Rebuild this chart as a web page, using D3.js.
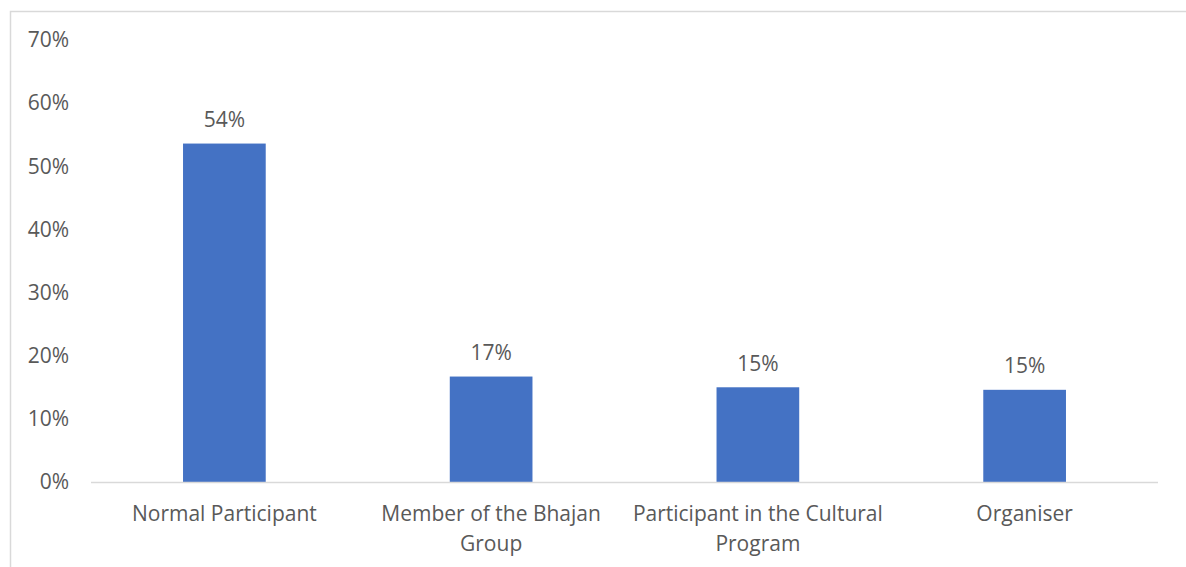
<!DOCTYPE html>
<html lang="en">
<head>
<meta charset="UTF-8">
<title>Participation</title>
<script src="https://d3js.org/d3.v7.min.js"></script>
<style>
  body { margin: 0; background: #fff; }
  svg text { font-family: "Open Sans", Lato, sans-serif; fill: #595959; }
</style>
</head>
<body>
<svg width="1186" height="567"></svg>
<script>
// data
const categories = [["Normal Participant"], ["Member of the Bhajan", "Group"], ["Participant in the Cultural", "Program"], ["Organiser"]];
const values = [53.6, 16.7, 15.0, 14.6];
const labels = ["54%", "17%", "15%", "15%"];
const yTicks = [0, 10, 20, 30, 40, 50, 60, 70];

const svg = d3.select("svg");
const fs = "21px";

// chart frame (only top/left edges fall inside the picture)
svg.append("rect")
  .attr("x", 10.5).attr("y", 11.5)
  .attr("width", 1200).attr("height", 600)
  .attr("fill", "none").attr("stroke", "#d9d9d9").attr("stroke-width", 1.5);

const x = d3.scaleBand().domain(d3.range(categories.length)).range([91, 1158]);
const y = d3.scaleLinear().domain([0, 70]).range([482, 40]);
const barW = x.bandwidth() * 0.31;

// y tick labels
svg.selectAll(".ytick")
  .data(yTicks)
  .enter().append("text")
    .attr("x", 69)
    .attr("y", d => y(d))
    .attr("dy", "0.35em")
    .attr("text-anchor", "end")
    .style("font-size", fs)
    .text(d => d + "%");

// bars
svg.selectAll(".bar")
  .data(values)
  .enter().append("rect")
    .attr("x", (d, i) => x(i) + x.bandwidth() / 2 - barW / 2)
    .attr("y", d => y(d))
    .attr("width", barW)
    .attr("height", d => y(0) - y(d))
    .attr("fill", "#4472c4");

// baseline
svg.append("line")
  .attr("x1", 91).attr("x2", 1158)
  .attr("y1", y(0) + 0.5).attr("y2", y(0) + 0.5)
  .attr("stroke", "#d9d9d9").attr("stroke-width", 1.5);

// value labels
svg.selectAll(".val")
  .data(values)
  .enter().append("text")
    .attr("x", (d, i) => x(i) + x.bandwidth() / 2)
    .attr("y", d => y(d) - 24)
    .attr("dy", "0.35em")
    .attr("text-anchor", "middle")
    .style("font-size", fs)
    .text((d, i) => labels[i]);

// category labels, may be two lines
const cat = svg.selectAll(".cat")
  .data(categories)
  .enter().append("text")
    .attr("text-anchor", "middle")
    .style("font-size", fs);

cat.selectAll("tspan")
  .data((d, i) => d.map(t => ({ t, i })))
  .enter().append("tspan")
    .attr("x", d => x(d.i) + x.bandwidth() / 2)
    .attr("y", (d, j) => 514 + j * 30)
    .attr("dy", "0.35em")
    .text(d => d.t);
</script>
</body>
</html>
